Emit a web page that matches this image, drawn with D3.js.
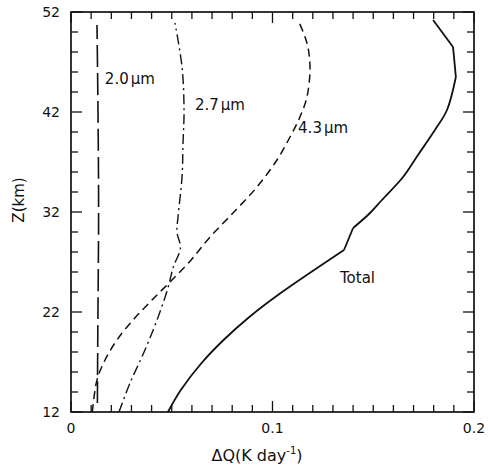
<!DOCTYPE html>
<html>
<head>
<meta charset="utf-8">
<script src="https://cdn.jsdelivr.net/npm/d3@7"></script>
<style>
  body { margin: 0; background: #fff; }
  text { font-family: "DejaVu Sans", sans-serif; fill: #111; }
</style>
</head>
<body>
<div id="chart"></div>
<script>
// heights (km) and cooling differences (K/day)
const zTotal = [12, 14.2, 16.9, 19.2, 21.5, 23.7, 28.2, 30.4, 31.9, 33.2, 35.5, 37.7, 40.2, 42.2, 45.5, 48.5, 51.2];
const qTotal = [0.0481, 0.0545, 0.0648, 0.0757, 0.0885, 0.1027, 0.1355, 0.140, 0.1484, 0.1543, 0.1648, 0.1722, 0.1806, 0.1866, 0.191, 0.1896, 0.1797];
// where the total curve has corners (indices into the arrays above)
const totalBreaks = [0, 6, 7, 14, 15, 16];

const z43 = [12, 15.2, 17.2, 19.2, 21.2, 23.2, 25.2, 27.2, 29.5, 31.9, 34.5, 37.2, 39.5, 41.5, 43.5, 46.5, 48.9, 51.2];
const q43 = [0.0106, 0.0129, 0.0169, 0.0228, 0.0308, 0.0402, 0.0501, 0.0596, 0.069, 0.0804, 0.0923, 0.1022, 0.1087, 0.1136, 0.1171, 0.1186, 0.1171, 0.1127];

const z27 = [12, 14.9, 18.2, 21.2, 24.2, 26.5, 28.4, 30, 31.5, 35.5, 38.9, 42.2, 46.5, 50.9];
const q27 = [0.0238, 0.0293, 0.0367, 0.0427, 0.0478, 0.0508, 0.0543, 0.0526, 0.0531, 0.0551, 0.0556, 0.0561, 0.0551, 0.0516];

const z20 = [12.9, 20, 32, 42, 50.7];
const q20 = [0.0131, 0.0133, 0.0137, 0.0134, 0.0129];

const yLabels = [12, 22, 32, 42, 52];
const xLabels = [0, 0.1, 0.2];

const width = 490, height = 469;
const margin = { top: 12, right: 16, bottom: 57, left: 71 };

const svg = d3.select('#chart').append('svg')
  .attr('width', width)
  .attr('height', height);

const x = d3.scaleLinear().domain([0, 0.2]).range([margin.left, width - margin.right]);
const y = d3.scaleLinear().domain([12, 52]).range([height - margin.bottom, margin.top]);

// frame
svg.append('rect')
  .attr('x', x(0)).attr('y', y(52))
  .attr('width', x(0.2) - x(0)).attr('height', y(12) - y(52))
  .attr('fill', 'none').attr('stroke', '#111').attr('stroke-width', 1.7);

// inward ticks on all four sides
const xTicks = d3.range(0, 21).map(i => i / 100);
const yTicks = d3.range(12, 53, 2);
const isMajorX = v => Math.abs(v * 10 - Math.round(v * 10)) < 1e-6;
const isMajorY = v => (v - 12) % 10 === 0;

const tickG = svg.append('g').attr('stroke', '#111').attr('stroke-width', 1.3);
xTicks.forEach(v => {
  const len = isMajorX(v) ? 11 : 7;
  tickG.append('line').attr('x1', x(v)).attr('x2', x(v)).attr('y1', y(12)).attr('y2', y(12) - len);
  tickG.append('line').attr('x1', x(v)).attr('x2', x(v)).attr('y1', y(52)).attr('y2', y(52) + len);
});
yTicks.forEach(v => {
  const len = isMajorY(v) ? 11 : 7;
  tickG.append('line').attr('x1', x(0)).attr('x2', x(0) + len).attr('y1', y(v)).attr('y2', y(v));
  tickG.append('line').attr('x1', x(0.2)).attr('x2', x(0.2) - len).attr('y1', y(v)).attr('y2', y(v));
});

// tick labels
svg.append('g').selectAll('text').data(yLabels).enter().append('text')
  .attr('x', margin.left - 11)
  .attr('y', d => y(d) + 5)
  .attr('text-anchor', 'end')
  .attr('font-size', 14)
  .text(d => d);

svg.append('g').selectAll('text').data(xLabels).enter().append('text')
  .attr('x', d => x(d))
  .attr('y', y(12) + 21)
  .attr('text-anchor', 'middle')
  .attr('font-size', 14)
  .text(d => d === 0 ? '0' : d.toFixed(1));

// axis titles
const xt = svg.append('text')
  .attr('x', 257).attr('y', 461)
  .attr('text-anchor', 'middle')
  .attr('font-size', 16);
xt.append('tspan').text('ΔQ(K day');
xt.append('tspan').attr('dy', -7).attr('font-size', 10).text('-1');
xt.append('tspan').attr('dy', 7).text(')');

svg.append('text')
  .attr('transform', 'translate(24,200) rotate(-90)')
  .attr('text-anchor', 'middle')
  .attr('font-size', 15)
  .text('Z(km)');

// curves
const smooth = d3.line()
  .x(d => x(d[0]))
  .y(d => y(d[1]))
  .curve(d3.curveCatmullRom.alpha(0.5));

const series = [
  { q: q20, z: z20, dash: '22,6', w: 1.6 },
  { q: q27, z: z27, dash: '10,4,2,4', w: 1.4 },
  { q: q43, z: z43, dash: '8,5', w: 1.5 }
];

series.forEach(s => {
  svg.append('path')
    .datum(s.q.map((v, i) => [v, s.z[i]]))
    .attr('d', smooth)
    .attr('fill', 'none')
    .attr('stroke', '#111')
    .attr('stroke-width', s.w)
    .attr('stroke-dasharray', s.dash);
});

// total: smooth pieces joined at the corners
const totalPts = qTotal.map((v, i) => [v, zTotal[i]]);
d3.pairs(totalBreaks).forEach(([a, b]) => {
  svg.append('path')
    .datum(totalPts.slice(a, b + 1))
    .attr('d', smooth)
    .attr('fill', 'none')
    .attr('stroke', '#111')
    .attr('stroke-width', 1.8)
    .attr('stroke-linejoin', 'round');
});

// curve labels
const curveLabels = [
  { t: '2.0', q: 0.0168, z: 44.8 },
  { t: '2.7', q: 0.0615, z: 42.2 },
  { t: '4.3', q: 0.1127, z: 39.9 },
];
curveLabels.forEach(c => {
  const t = svg.append('text')
    .attr('x', x(c.q)).attr('y', y(c.z))
    .attr('font-size', 15);
  t.append('tspan').text(c.t);
  t.append('tspan').attr('dx', 2).text('μm');
});
svg.append('text')
  .attr('x', x(0.1335)).attr('y', y(24.9))
  .attr('font-size', 15)
  .text('Total');
</script>
</body>
</html>
